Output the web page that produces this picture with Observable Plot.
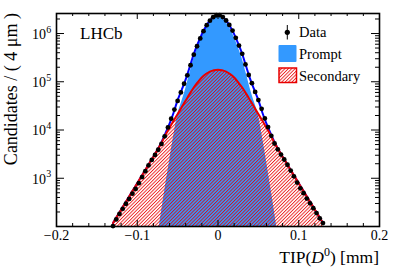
<!DOCTYPE html>
<html><head><meta charset="utf-8">
<script src="https://cdn.jsdelivr.net/npm/d3@7"></script>
<script src="https://cdn.jsdelivr.net/npm/@observablehq/plot@0.6"></script>
<style>
html,body{margin:0;padding:0;background:#fff;}
svg{font-family:"Liberation Serif","Times New Roman",serif;}
</style></head><body><div id="chart"></div>
<script>
// Data points (bin centres in mm, candidates per 4 um)
const dataX = [-0.130,-0.126,-0.122,-0.118,-0.114,-0.110,-0.106,-0.102,-0.098,-0.094,-0.090,-0.086,-0.082,-0.078,-0.074,-0.070,-0.066,-0.062,-0.058,-0.054,-0.050,-0.046,-0.042,-0.038,-0.034,-0.030,-0.026,-0.022,-0.018,-0.014,-0.010,-0.006,-0.002,
  0.002,0.006,0.010,0.014,0.018,0.022,0.026,0.030,0.034,0.038,0.042,0.046,0.050,0.054,0.058,0.062,0.066,0.070,0.074,0.078,0.082,0.086,0.090,0.094,0.098,0.102,0.106,0.110,0.114,0.118,0.122,0.126,0.130];
const dataY = [102,140,182,232,296,372,478,600,790,1060,1400,1850,2400,3050,3900,5150,7400,11300,17200,26500,40000,60000,91000,136000,220000,365000,545000,790000,1120000,1490000,1850000,2180000,2390000,
  2400000,2190000,1860000,1510000,1150000,813000,562000,380000,229000,138000,93300,61700,41700,27500,17400,11500,7590,5250,3980,3090,2450,1905,1445,1096,813,617,490,380,302,240,190,148,118];

// Fit components
const curveX = [-0.130,-0.125,-0.120,-0.115,-0.110,-0.105,-0.100,-0.095,-0.090,-0.085,-0.080,-0.075,-0.070,-0.065,-0.060,-0.055,-0.050,-0.045,-0.040,-0.035,-0.030,-0.025,-0.020,-0.015,-0.010,-0.005,0,
  0.005,0.010,0.015,0.020,0.025,0.030,0.035,0.040,0.045,0.050,0.055,0.060,0.065,0.070,0.075,0.080,0.085,0.090,0.095,0.100,0.105,0.110,0.115,0.120,0.125,0.130];
const secondaryY = [118,162,222,305,420,575,790,1080,1480,2050,2800,3900,5400,7940,11200,15500,21400,29500,40700,56200,75900,97700,123000,144500,162200,173800,177800,
  173800,162200,144500,123000,97700,75900,56200,40700,29500,21400,15500,11200,7940,5400,3900,2800,2050,1480,1080,790,575,420,305,222,162,118];
const promptX = [-0.0727,-0.070,-0.065,-0.060,-0.055,-0.050,-0.045,-0.040,-0.035,-0.030,-0.025,-0.020,-0.015,-0.010,-0.005,0,
  0.005,0.010,0.015,0.020,0.025,0.030,0.035,0.040,0.045,0.050,0.055,0.060,0.065,0.070,0.0727];
const promptY = [100,200,692,2290,7240,20400,38000,71000,148000,300000,520000,850000,1260000,1700000,2070000,2230000,
  2070000,1700000,1260000,850000,520000,300000,148000,71000,38000,20400,7240,2290,692,200,100];

// Axes
const xTicks = [-0.2,-0.1,0,0.1,0.2];
const xTickLabels = ["\u22120.2","\u22120.1","0","0.1","0.2"];
const xMinorTicks = [-0.18,-0.16,-0.14,-0.12,-0.08,-0.06,-0.04,-0.02,0.02,0.04,0.06,0.08,0.12,0.14,0.16,0.18];
const yTicks = [1e3,1e4,1e5,1e6];
const yTickExponents = ["3","4","5","6"];
const yMinorMultipliers = [2,3,4,5,6,7,8,9];
const yDomain = [100, 2.6e6];

const W=399,H=270,mt=13,mb=44,ml=56,mr=20;
const iw=W-ml-mr, ih=H-mt-mb;
const yMinorTicks = [];
for (const e of [2,3,4,5,6]) for (const m of yMinorMultipliers) { const v=m*Math.pow(10,e); if (v<yDomain[1]) yMinorTicks.push(v); }

const pts = dataX.map((x,i)=>({x,y:dataY[i]}));
const sec = curveX.map((x,i)=>({x,y:secondaryY[i]}));
const prm = promptX.map((x,i)=>({x,y:promptY[i]}));
const pMap = new Map(promptX.map((x,i)=>[x.toFixed(3),promptY[i]]));
const tot = curveX.map((x,i)=>({x,y:secondaryY[i]+(pMap.get(x.toFixed(3))||0)}));

const RED="#e80000", BLUE="#0000ff", AZ="#3399ff";

const chart = Plot.plot({
  width:W, height:H, marginTop:mt, marginBottom:mb, marginLeft:ml, marginRight:mr,
  x:{domain:[-0.2,0.2], axis:null},
  y:{type:"log", domain:yDomain, axis:null},
  style:{fontFamily:"Liberation Serif", background:"white", overflow:"visible", color:"black"},
  marks:[
    Plot.areaY(prm,{x:"x",y1:100,y2:"y",fill:AZ,curve:"monotone-x"}),
    Plot.areaY(sec,{x:"x",y1:100,y2:"y",fill:"url(#hatch)",curve:"monotone-x"}),
    Plot.line(tot,{x:"x",y:"y",stroke:BLUE,strokeWidth:2,curve:"monotone-x"}),
    Plot.line(sec,{x:"x",y:"y",stroke:RED,strokeWidth:2,curve:"monotone-x"}),
    Plot.dot(pts,{x:"x",y:"y",r:2.4,fill:"black",stroke:"none"}),
    Plot.tickX(xTicks,{x:d=>d,insetTop:ih-6,stroke:"black"}),
    Plot.tickX(xTicks,{x:d=>d,insetBottom:ih-6,stroke:"black"}),
    Plot.tickX(xMinorTicks,{x:d=>d,insetTop:ih-3,stroke:"black"}),
    Plot.tickX(xMinorTicks,{x:d=>d,insetBottom:ih-3,stroke:"black"}),
    Plot.tickY(yTicks,{y:d=>d,insetRight:iw-8,stroke:"black"}),
    Plot.tickY(yTicks,{y:d=>d,insetLeft:iw-8,stroke:"black"}),
    Plot.tickY(yMinorTicks,{y:d=>d,insetRight:iw-4,stroke:"black"}),
    Plot.tickY(yMinorTicks,{y:d=>d,insetLeft:iw-4,stroke:"black"}),
    Plot.frame({stroke:"black",strokeWidth:1.6}),
    Plot.text(xTicks,{x:d=>d,frameAnchor:"bottom",dy:13,text:(d,i)=>xTickLabels[i],fontSize:14}),
    Plot.text(yTicks,{y:d=>d,frameAnchor:"left",dx:-10.5,dy:1,text:()=>"10",textAnchor:"end",fontSize:14}),
    Plot.text(yTicks,{y:d=>d,frameAnchor:"left",dx:-10.3,dy:-4,text:(d,i)=>yTickExponents[i],textAnchor:"start",fontSize:10})
  ]
});

const svg = d3.select(chart);
const defs = svg.insert("defs",":first-child");
const pat = defs.append("pattern").attr("id","hatch").attr("patternUnits","userSpaceOnUse")
  .attr("width",2.4).attr("height",2.4).attr("patternTransform","rotate(45)");
pat.append("line").attr("x1",0.5).attr("y1",-1).attr("x2",0.5).attr("y2",4).attr("stroke",RED).attr("stroke-width",0.8);

const ff = "Liberation Serif";
// Y title
svg.append("text").attr("transform","translate(17,13) rotate(-90)").attr("text-anchor","end")
  .attr("font-family",ff).attr("font-size",18).attr("fill","black").text("Candidates / ( 4 \u03bcm )");
// X title
const xt = svg.append("text").attr("x",379).attr("y",263).attr("text-anchor","end")
  .attr("font-family",ff).attr("font-size",17.5).attr("fill","black");
xt.append("tspan").text("TIP(");
xt.append("tspan").attr("font-style","italic").text("D");
xt.append("tspan").attr("font-size",12).attr("dy",-7).text("0");
xt.append("tspan").attr("dy",7).text(") [mm]");
// LHCb
svg.append("text").attr("x",80).attr("y",39).attr("text-anchor","start").attr("font-family",ff).attr("font-size",17).attr("fill","black").text("LHCb");
// Legend
const lg = svg.append("g").attr("font-family",ff).attr("font-size",14.5).attr("fill","black").attr("text-anchor","start");
lg.append("line").attr("x1",287.3).attr("x2",287.3).attr("y1",25).attr("y2",39.5).attr("stroke","black").attr("stroke-width",1);
lg.append("circle").attr("cx",287.3).attr("cy",32.3).attr("r",2.6).attr("fill","black");
lg.append("text").attr("x",299).attr("y",37).text("Data");
lg.append("rect").attr("x",278.5).attr("y",45).attr("width",18).attr("height",17).attr("fill",AZ).attr("rx",1);
lg.append("text").attr("x",299).attr("y",58.5).text("Prompt");
lg.append("rect").attr("x",279).attr("y",68).attr("width",17.5).attr("height",14.5).attr("fill","url(#hatch)").attr("stroke",RED).attr("stroke-width",1.5);
lg.append("text").attr("x",299).attr("y",80.5).text("Secondary");

document.getElementById("chart").append(chart);
</script></body></html>
